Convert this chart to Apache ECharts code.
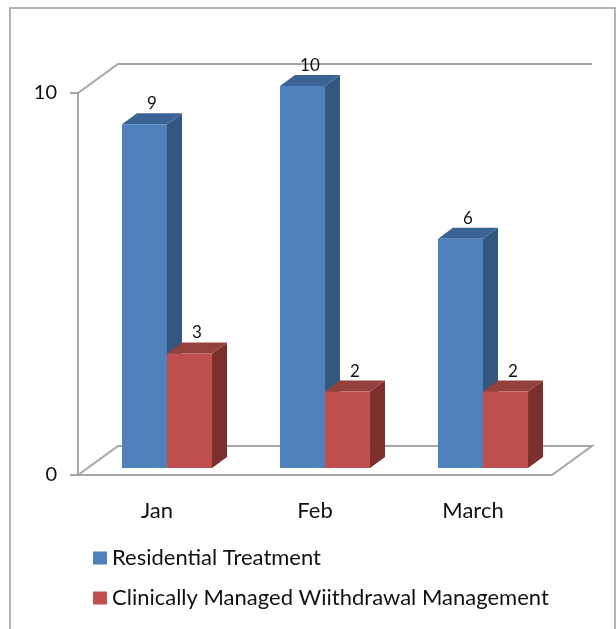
<!DOCTYPE html>
<html>
<head>
<meta charset="utf-8">
<style>
  html, body { margin: 0; padding: 0; background: #fff; }
  #chart { width: 616px; height: 629px; }
</style>
<script src="https://cdn.jsdelivr.net/npm/echarts@6/dist/echarts.min.js"></script>
</head>
<body>
<div id="chart"></div>
<script>
const months = ['Jan', 'Feb', 'March']
const residential = [9, 10, 6]
const withdrawal = [3, 2, 2]
const yTicks = [0, 10]
const seriesNames = ['Residential Treatment', 'Clinically Managed Wiithdrawal Management']

const FONT = 'Lato, "Open Sans", sans-serif'
// perspective offsets (px)
const BACK = [40, -29]
const BAR_OFF = [10, -7]
const BAR_DEPTH = [15, -11]

const shades = [
  { front: '#4f81bd', side: '#34577f', top: '#3b6494' },
  { front: '#c0504d', side: '#7c2f2d', top: '#94403d' },
]

// k = 0 for the left (blue) bar, 1 for the right (red) one
const barItem = (k) => (params, api) => {
  const s = shades[k]
  const idx = api.value(0)
  const base = api.coord([idx, 0])
  const top = api.coord([idx, api.value(1)])
  const bw = api.size([1, 0])[0] * 0.285
  const x0 = (k === 0 ? base[0] - bw : base[0]) + BAR_OFF[0]
  const yb = base[1] + BAR_OFF[1]
  const yt = top[1] + BAR_OFF[1]
  const [dx, dy] = BAR_DEPTH
  return {
    type: 'group',
    children: [
      { type: 'polygon', shape: { points: [[x0 + bw, yt], [x0 + bw + dx, yt + dy], [x0 + bw + dx, yb + dy], [x0 + bw, yb]] }, style: { fill: s.side } },
      { type: 'polygon', shape: { points: [[x0, yt], [x0 + bw, yt], [x0 + bw + dx, yt + dy], [x0 + dx, yt + dy]] }, style: { fill: s.top } },
      { type: 'rect', shape: { x: x0, y: yt, width: bw, height: yb - yt }, style: { fill: s.front } },
      { type: 'text', x: x0 + bw / 2 + dx / 2, y: yt + dy - 1,
        style: { text: String(api.value(1)), fill: '#111', font: '17px ' + FONT, align: 'center', verticalAlign: 'bottom' } },
    ],
  }
}

function frameItem(params, api) {
  const cs = params.coordSys
  const v = api.value(1)
  const y = api.coord([0, v])[1]
  const l = cs.x, r = cs.x + cs.width
  const [bx, by] = BACK
  const pts = v === 0
    ? [[r, y], [r + bx, y + by], [l + bx, y + by], [l, y]]
    : [[l, y], [l + bx, y + by], [r + bx, y + by]]
  return { type: 'polyline', shape: { points: pts }, style: { stroke: '#a6a6a6', lineWidth: 2, fill: null } }
}

const chart = echarts.init(document.getElementById('chart'))
chart.setOption({
  animation: false,
  backgroundColor: '#fff',
  textStyle: { fontFamily: FONT },
  graphic: [
    { type: 'rect', shape: { x: 10, y: 8, width: 605, height: 640 }, style: { fill: null, stroke: '#9a9a9a', lineWidth: 1.5 }, z: -1 },
  ],
  grid: { left: 78, top: 93, width: 474, height: 382 },
  legend: {
    data: seriesNames,
    orient: 'vertical', left: 93, top: 547, padding: 0,
    icon: 'rect', itemWidth: 14, itemHeight: 13, itemGap: 18,
    textStyle: { fontSize: 22, color: '#111', fontFamily: FONT },
  },
  xAxis: {
    type: 'category', data: months,
    axisLine: { lineStyle: { color: '#8a8a8a', width: 1.5 } },
    axisTick: { length: 8, lineStyle: { color: '#8a8a8a', width: 1.5 } },
    axisLabel: { fontSize: 22, color: '#111', margin: 25 },
  },
  yAxis: {
    type: 'value', min: 0, max: 10, interval: 10,
    axisLine: { show: true, lineStyle: { color: '#8a8a8a', width: 1.5 } },
    axisTick: { show: true, length: 8, lineStyle: { color: '#8a8a8a', width: 1.5 } },
    axisLabel: { fontSize: 20, color: '#111', margin: 21 },
    splitLine: { show: false },
  },
  series: [
    { type: 'custom', name: 'frame', renderItem: frameItem, data: yTicks.map(v => [0, v]), z: 1, silent: true },
    { type: 'custom', name: seriesNames[0], renderItem: barItem(0), itemStyle: { color: shades[0].front },
      data: residential.map((v, i) => [i, v]), z: 2, clip: false },
    { type: 'custom', name: seriesNames[1], renderItem: barItem(1), itemStyle: { color: shades[1].front },
      data: withdrawal.map((v, i) => [i, v]), z: 3, clip: false },
  ],
})
</script>
</body>
</html>
